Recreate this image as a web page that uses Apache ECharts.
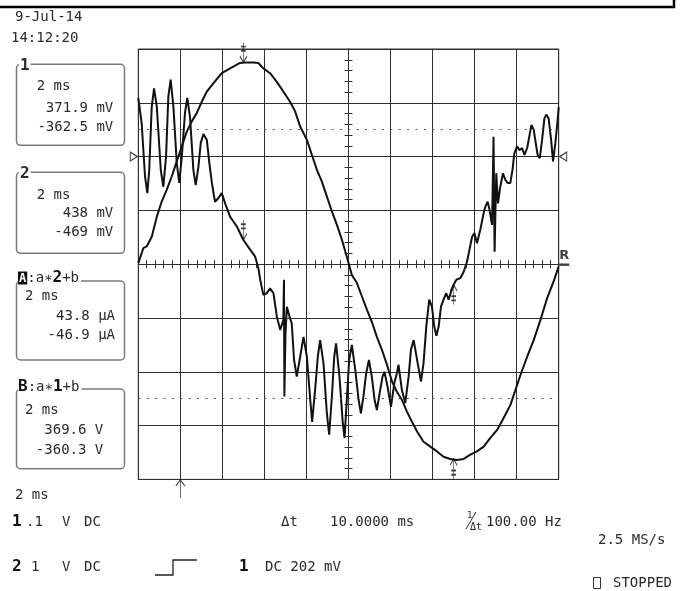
<!DOCTYPE html>
<html><head><meta charset="utf-8">
<script src="https://cdn.jsdelivr.net/npm/echarts@6/dist/echarts.min.js"></script>
<style>html,body{margin:0;padding:0;background:#fff}#c{width:684px;height:591px}</style>
</head><body><div id="c"></div>
<script>
// ---- data (time in ms, relative to screen centre) ----
const ch1Time = [-10.0,-9.76,-9.6,-9.36,-9.12,-8.89,-8.65,-8.41,-8.17,-7.93,-7.7,-7.46,-7.22,-6.98,-6.74,-6.43,-6.03,-5.63,-5.16,-4.92,-4.52,-4.29,-4.05,-3.73,-3.41,-3.1,-2.78,-2.54,-2.3,-1.98,-1.74,-1.5,-1.27,-1.03,-0.79,-0.55,-0.31,-0.08,0.16,0.4,0.64,0.88,1.11,1.35,1.59,1.83,2.07,2.3,2.54,2.78,3.02,3.26,3.57,3.89,4.21,4.52,4.84,5.16,5.48,5.8,6.11,6.43,6.75,7.07,7.38,7.7,7.94,8.18,8.5,8.81,9.13,9.45,9.76,10.0];
const ch1mV = [2,30,33,51,88,116,138,163,191,219,246,265,281,302,321,336,355,364,374,375,375,374,364,355,339,321,302,284,256,231,203,175,154,126,98,73,45,14,-20,-35,-60,-85,-107,-135,-159,-187,-218,-237,-252,-274,-293,-311,-330,-339,-348,-358,-362,-364,-362,-354,-348,-339,-323,-308,-286,-262,-234,-206,-172,-141,-104,-63,-32,-4];
const ch2Time = [-10.0,-9.84,-9.68,-9.57,-9.48,-9.36,-9.25,-9.12,-8.93,-8.81,-8.68,-8.57,-8.46,-8.33,-8.17,-8.05,-7.93,-7.78,-7.67,-7.54,-7.38,-7.27,-7.14,-7.03,-6.9,-6.74,-6.62,-6.5,-6.35,-6.19,-6.03,-5.87,-5.63,-5.31,-5.0,-4.68,-4.44,-4.29,-4.2,-4.05,-3.89,-3.73,-3.57,-3.41,-3.25,-3.1,-3.07,-3.05,-3.0,-2.93,-2.81,-2.7,-2.59,-2.46,-2.3,-2.14,-1.98,-1.82,-1.73,-1.59,-1.46,-1.35,-1.19,-1.03,-0.92,-0.79,-0.68,-0.59,-0.43,-0.27,-0.19,-0.08,0.03,0.16,0.32,0.48,0.59,0.71,0.84,0.97,1.11,1.24,1.35,1.48,1.62,1.71,1.86,2.02,2.18,2.3,2.38,2.54,2.7,2.86,2.97,3.1,3.29,3.45,3.57,3.7,3.84,3.97,4.08,4.18,4.29,4.4,4.52,4.65,4.76,4.88,5.0,5.13,5.32,5.48,5.64,5.88,5.99,6.11,6.27,6.43,6.51,6.62,6.71,6.83,6.9,6.95,7.03,7.11,7.22,7.35,7.46,7.57,7.7,7.8,7.89,8.02,8.13,8.26,8.37,8.5,8.6,8.7,8.81,8.92,9.0,9.1,9.21,9.32,9.41,9.52,9.64,9.73,9.84,9.95,10.0];
const ch2Div = [3.09,2.62,1.63,1.32,1.75,2.93,3.27,2.93,1.75,1.44,2.0,3.12,3.43,2.93,1.88,1.51,2.0,2.81,3.09,2.74,1.75,1.47,1.81,2.25,2.42,2.31,1.88,1.51,1.16,1.23,1.32,1.13,0.88,0.7,0.45,0.27,0.14,-0.07,-0.29,-0.57,-0.54,-0.45,-0.54,-0.97,-1.22,-1.04,-0.29,-2.46,-1.3,-0.79,-0.97,-1.1,-1.78,-2.09,-1.72,-1.35,-1.72,-2.52,-2.93,-2.34,-1.72,-1.41,-1.84,-2.77,-3.17,-2.46,-1.72,-1.47,-2.09,-2.96,-3.23,-2.52,-1.78,-1.5,-1.96,-2.52,-2.77,-2.46,-2.03,-1.78,-2.09,-2.52,-2.71,-2.4,-2.09,-2.0,-2.28,-2.65,-2.21,-2.03,-1.87,-2.34,-2.58,-2.09,-1.59,-1.41,-1.84,-2.18,-1.84,-1.16,-0.66,-0.79,-1.16,-1.33,-1.16,-0.79,-0.66,-0.54,-0.66,-0.51,-0.38,-0.29,-0.26,-0.14,0.05,0.51,0.58,0.39,0.64,0.95,1.07,1.16,1.01,0.73,2.37,0.23,1.69,1.13,1.44,1.69,1.57,1.51,1.51,1.75,2.06,2.19,2.12,2.16,2.03,2.16,2.37,2.59,2.5,2.22,2.03,1.97,2.31,2.71,2.78,2.71,2.31,1.91,2.25,2.68,2.92];
const ch1mVPerDiv = 100;          // .1 V/div
const cursorTimes = [-5, 5];      // Δt = 10 ms
const cursorLevelsDiv = [2.5, -2.5];
const triggerTime = -8;
const ch2RefDiv = 2;
const timeTicks = {min: -10, max: 10, major: 2, minor: 0.4};
const divTicks = {min: -4, max: 4, major: 1, minor: 0.2};

// ---- helpers ----
const FONT = '"DejaVu Sans Mono", "Liberation Mono", monospace';
const INK = '#2a2a2a';
function nearest(times, vals, t) {
  let bi = 0;
  times.forEach((v, i) => { if (Math.abs(v - t) < Math.abs(times[bi] - t)) bi = i; });
  return vals[bi];
}
function txt(x, y, s, o) {
  o = o || {};
  return {type: 'text', z: 20, silent: true, style: Object.assign({
    text: s, x: x, y: y, fill: o.fill || INK,
    font: (o.weight || 'normal') + ' ' + (o.size || 14) + 'px ' + (o.family || FONT),
    align: o.align || 'left', verticalAlign: 'middle'
  }, o.extra || {})};
}
function box(x, y, w, h) {
  return {type: 'rect', z: 15, silent: true, shape: {x: x, y: y, width: w, height: h, r: 4},
    style: {fill: 'none', stroke: '#7a7a7a', lineWidth: 1.5}};
}

const ch1Data = ch1Time.map((t, i) => [t, ch1mV[i] / ch1mVPerDiv]);
const ch2Data = ch2Time.map((t, i) => [t, ch2Div[i]]);

const ARROW_DOWN = 'path://M4,0L4,19M1,13L4,19L7,13M2,4L6,4M2,8L6,8';
const ARROW_UP = 'path://M4,20L4,1M1,7L4,1L7,7M2,12L6,12M2,16L6,16';
const TRIG = 'path://M5,18L5,0M1,6L5,0L9,6';
const TRI_R = 'path://M0,0L7,4.5L0,9Z';
const TRI_L = 'path://M7,0L0,4.5L7,9Z';

const markers = [];
cursorTimes.forEach((t, i) => {
  const down = i === 0;
  markers.push({value: [t, nearest(ch1Time, ch1mV, t) / ch1mVPerDiv], symbol: down ? ARROW_DOWN : ARROW_UP,
    symbolSize: [7, 20], symbolOffset: [0, down ? -10 : 10]});
  markers.push({value: [t, nearest(ch2Time, ch2Div, t)], symbol: down ? ARROW_DOWN : ARROW_UP,
    symbolSize: [7, 20], symbolOffset: [0, down ? -10 : 10]});
});
markers.push({value: [triggerTime, divTicks.min], symbol: TRIG, symbolSize: [9, 18], symbolOffset: [0, 9.5]});
markers.push({value: [timeTicks.min, ch2RefDiv], symbol: TRI_R, symbolSize: [7, 9], symbolOffset: [-4.5, 0]});
markers.push({value: [timeTicks.max, ch2RefDiv], symbol: TRI_L, symbolSize: [7, 9], symbolOffset: [4.5, 0]});
markers.push({value: [timeTicks.max, 0], symbol: 'rect', symbolSize: [10, 2.5], symbolOffset: [5.5, 0.5],
  itemStyle: {color: '#111', borderWidth: 0},
  label: {show: true, formatter: 'R', position: 'top', distance: 1, color: '#111',
    fontFamily: 'DejaVu Sans', fontWeight: 'bold', fontSize: 13}});

const gridLine = {lineStyle: {color: '#2f2f2f', width: 1}};
const hidden = {axisLabel: {show: false}, splitLine: {show: false}};
function tickX(inside) {
  return Object.assign({type: 'value', min: timeTicks.min, max: timeTicks.max, interval: timeTicks.minor, position: 'bottom',
    axisLine: {show: true, onZero: true, onZeroAxisIndex: 0, lineStyle: {color: '#2f2f2f', width: 1}},
    axisTick: {show: true, inside: inside, length: 4, lineStyle: {color: '#2f2f2f', width: 1}}}, hidden);
}
function tickY(inside) {
  return Object.assign({type: 'value', min: divTicks.min, max: divTicks.max, interval: divTicks.minor, position: 'left',
    axisLine: {show: true, onZero: true, onZeroAxisIndex: 0, lineStyle: {color: '#2f2f2f', width: 1}},
    axisTick: {show: true, inside: inside, length: 4, lineStyle: {color: '#2f2f2f', width: 1}}}, hidden);
}

const graphics = [
  {type: 'polyline', z: 10, silent: true, shape: {points: [[0, 7], [674, 7], [674, 0]]}, style: {stroke: '#000', lineWidth: 2.5, fill: 'none'}},
  txt(15, 17, '9-Jul-14'),
  txt(11, 38, '14:12:20'),
  // box 1
  box(16.5, 64.3, 108, 81),
  txt(19, 66, '1', {weight: 'bold', size: 16, extra: {backgroundColor: '#fff', padding: [0, 1]}}),
  txt(36.7, 86.7, '2 ms'),
  txt(113.3, 108, '371.9 mV', {align: 'right'}),
  txt(113.3, 127, '-362.5 mV', {align: 'right'}),
  // box 2
  box(16.5, 172.3, 108, 81),
  txt(19, 174, '2', {weight: 'bold', size: 16, extra: {backgroundColor: '#fff', padding: [0, 1]}}),
  txt(36.7, 195, '2 ms'),
  txt(113.3, 213, '438 mV', {align: 'right'}),
  txt(113.3, 232.7, '-469 mV', {align: 'right'}),
  // box A
  box(16.5, 281, 108, 79),
  txt(18, 278, '{inv|A}:a∗{b|2}+b', {extra: {backgroundColor: '#fff', padding: [0, 2, 0, 0], rich: {
    inv: {backgroundColor: '#111', fill: '#fff', font: 'bold 12px ' + FONT, padding: [1, 1, 0, 1]},
    b: {font: 'bold 16px ' + FONT, fill: '#111'}}}}),
  txt(25, 296.7, '2 ms'),
  txt(115, 316, '43.8 μA', {align: 'right'}),
  txt(115, 335.7, '-46.9 μA', {align: 'right'}),
  // box B
  box(16.5, 389, 108, 79.7),
  txt(18, 387, '{bb|B}:a∗{b|1}+b', {extra: {backgroundColor: '#fff', padding: [0, 2, 0, 0], rich: {
    bb: {font: 'bold 16px ' + FONT, fill: '#111'},
    b: {font: 'bold 16px ' + FONT, fill: '#111'}}}}),
  txt(25, 410, '2 ms'),
  txt(103.3, 430.7, '369.6 V', {align: 'right'}),
  txt(103.3, 450.7, '-360.3 V', {align: 'right'}),
  // bottom status lines
  txt(15, 495, '2 ms'),
  txt(12, 522, '1', {weight: 'bold', size: 16, fill: '#111'}),
  txt(26, 522, '.1'),
  txt(62, 522, 'V'),
  txt(84, 522, 'DC'),
  txt(281, 522, 'Δt'),
  txt(330, 522, '10.0000 ms'),
  txt(467, 516, '1', {size: 9}),
  {type: 'line', z: 20, silent: true, shape: {x1: 466, y1: 529, x2: 476, y2: 512}, style: {stroke: INK, lineWidth: 1}},
  txt(470, 527, 'Δt', {size: 10}),
  txt(486, 522, '100.00 Hz'),
  txt(598, 540, '2.5 MS/s', {extra: {width: 75}}),
  txt(12, 567, '2', {weight: 'bold', size: 16, fill: '#111'}),
  txt(31, 567, '1'),
  txt(62, 567, 'V'),
  txt(84, 567, 'DC'),
  {type: 'polyline', z: 20, silent: true, shape: {points: [[155, 575], [173, 575], [173, 560], [197, 560]]}, style: {stroke: '#222', lineWidth: 1.3, fill: 'none'}},
  txt(239, 567, '1', {weight: 'bold', size: 16, fill: '#111'}),
  txt(265, 567, 'DC 202 mV'),
  {type: 'rect', z: 20, silent: true, shape: {x: 593.5, y: 577.5, width: 7, height: 11}, style: {fill: 'none', stroke: '#333', lineWidth: 1}},
  txt(613, 583, 'STOPPED')
];

const chart = echarts.init(document.getElementById('c'), null, {renderer: 'canvas', width: 684, height: 591});
chart.setOption({
  animation: false,
  backgroundColor: '#fff',
  grid: {left: 138.3, top: 49, width: 420.4, height: 430.4, show: true, borderColor: '#2f2f2f', borderWidth: 1, containLabel: false},
  xAxis: [
    {type: 'value', min: timeTicks.min, max: timeTicks.max, interval: timeTicks.major,
      axisLine: {show: false}, axisTick: {show: false}, axisLabel: {show: false}, splitLine: Object.assign({show: true}, gridLine)},
    tickX(true), tickX(false)
  ],
  yAxis: [
    {type: 'value', min: divTicks.min, max: divTicks.max, interval: divTicks.major,
      axisLine: {show: false}, axisTick: {show: false}, axisLabel: {show: false}, splitLine: Object.assign({show: true}, gridLine)},
    tickY(true), tickY(false)
  ],
  series: [
    {type: 'line', name: 'ch1', data: ch1Data, showSymbol: false, symbol: 'none', silent: true, z: 4,
      lineStyle: {color: '#111', width: 2}},
    {type: 'line', name: 'ch2', data: ch2Data, showSymbol: false, symbol: 'none', silent: true, z: 4,
      lineStyle: {color: '#111', width: 2},
      markLine: {silent: true, symbol: 'none', label: {show: false},
        lineStyle: {type: [2, 6.4], color: '#555', width: 1},
        data: cursorLevelsDiv.map(v => ({yAxis: v}))}},
    {type: 'scatter', name: 'markers', data: markers, clip: false, silent: true, z: 6,
      itemStyle: {color: 'transparent', borderColor: '#111', borderWidth: 1.1}}
  ],
  graphic: graphics
});
</script>
</body></html>
